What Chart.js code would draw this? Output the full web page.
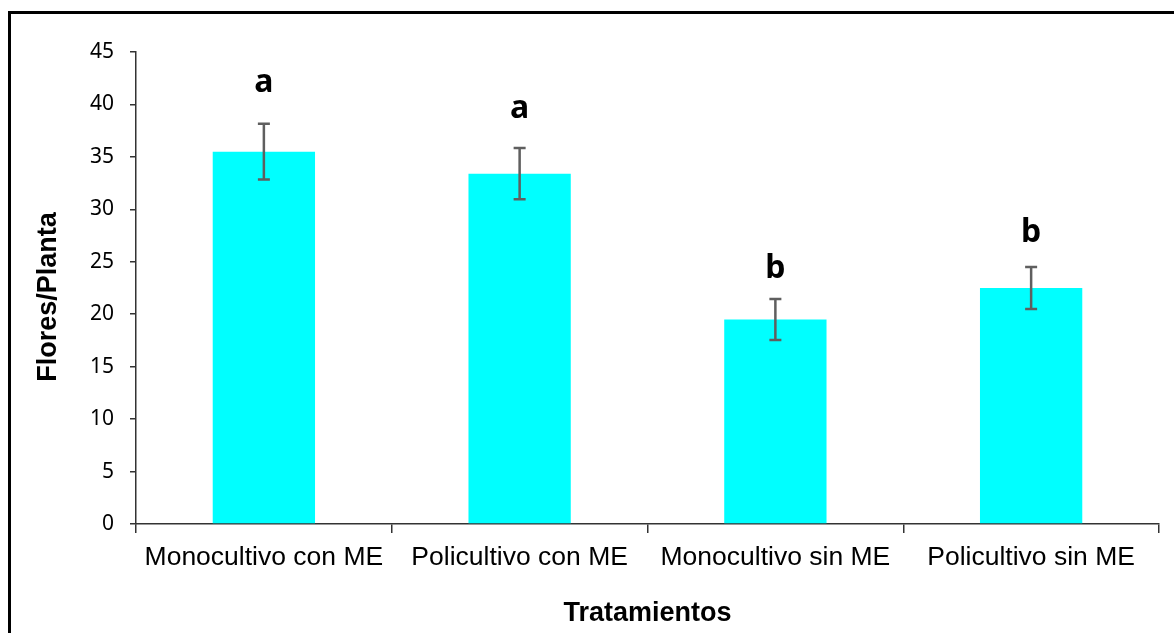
<!DOCTYPE html>
<html>
<head>
<meta charset="utf-8">
<script src="https://cdn.jsdelivr.net/npm/chart.js@4.4.1/dist/chart.umd.min.js"></script>
<style>
  html, body { margin: 0; padding: 0; background: #fff; overflow: hidden; }
  #frame { position: absolute; left: 8px; top: 11px; width: 1200px; height: 700px;
           border-left: 3px solid #000; border-top: 3px solid #000; }
  #c { position: absolute; left: 0; top: 0; }
</style>
</head>
<body>
<div id="frame"></div>
<canvas id="c" width="1174" height="633"></canvas>
<script>
const categories = ["Monocultivo con ME", "Policultivo con ME", "Monocultivo sin ME", "Policultivo sin ME"];
const values = [35.5, 33.4, 19.5, 22.5];
const errors = [2.65, 2.45, 1.95, 2.0];
const letters = ["a", "a", "b", "b"];
const letterY = [41.2, 38.7, 23.45, 26.9];
const yTicks = [0, 5, 10, 15, 20, 25, 30, 35, 40, 45];
const yTitle = "Flores/Planta";
const xTitle = "Tratamientos";

const overlay = {
  id: 'overlay',
  afterDatasetsDraw(chart) {
    const ctx = chart.ctx;
    const xs = chart.scales.x, ys = chart.scales.y;
    ctx.save();
    // error bars
    ctx.strokeStyle = '#5f5f5f';
    ctx.lineWidth = 2.5;
    values.forEach((v, i) => {
      const x = xs.getPixelForValue(i);
      const yt = ys.getPixelForValue(v + errors[i]);
      const yb = ys.getPixelForValue(v - errors[i]);
      ctx.beginPath();
      ctx.moveTo(x, yt); ctx.lineTo(x, yb);
      ctx.moveTo(x - 6, yt); ctx.lineTo(x + 6, yt);
      ctx.moveTo(x - 6, yb); ctx.lineTo(x + 6, yb);
      ctx.stroke();
    });
    // significance letters
    ctx.fillStyle = '#000';
    ctx.font = 'bold 32px "Noto Sans", sans-serif';
    ctx.textAlign = 'center';
    ctx.textBaseline = 'alphabetic';
    letters.forEach((t, i) => {
      ctx.fillText(t, xs.getPixelForValue(i), ys.getPixelForValue(letterY[i]));
    });
    // y title
    ctx.font = 'bold 27px "Liberation Sans", Arial, sans-serif';
    ctx.textBaseline = 'middle';
    ctx.translate(49, 297);
    ctx.rotate(-Math.PI / 2);
    ctx.fillText(yTitle, 0, 0);
    ctx.restore();
  }
};

new Chart(document.getElementById('c'), {
  type: 'bar',
  data: {
    labels: categories,
    datasets: [{
      data: values,
      backgroundColor: '#00FFFF',
      borderWidth: 0,
      categoryPercentage: 1.0,
      barPercentage: 0.4
    }]
  },
  options: {
    responsive: false,
    animation: false,
    devicePixelRatio: 1,
    layout: { padding: { left: 0, right: 15, top: 52, bottom: 0 } },
    plugins: { legend: { display: false }, tooltip: { enabled: false } },
    scales: {
      x: {
        grid: { drawOnChartArea: false, offset: true, tickLength: 9, color: '#333', lineWidth: 1.5 },
        border: { color: '#333', width: 1.5 },
        ticks: { color: '#000', font: { family: '"Liberation Sans", Arial, sans-serif', size: 26.5 }, padding: 9, maxRotation: 0, autoSkip: false },
        title: { display: true, text: xTitle, color: '#000',
                 font: { family: '"Liberation Sans", Arial, sans-serif', size: 27, weight: 'bold' },
                 padding: { top: 0, bottom: 3 } },
        afterFit(scale) { scale.height = 633 - 524; }
      },
      y: {
        min: 0, max: 45,
        afterBuildTicks(scale) { scale.ticks = yTicks.map(v => ({ value: v })); },
        grid: { drawOnChartArea: false, tickLength: 6, color: '#333', lineWidth: 1.5 },
        border: { color: '#333', width: 1.5 },
        ticks: { color: '#000', font: { family: '"Noto Sans", sans-serif', size: 21 }, padding: 16 },
        afterFit(scale) { scale.width = 136; }
      }
    }
  },
  plugins: [overlay]
});
</script>
</body>
</html>
